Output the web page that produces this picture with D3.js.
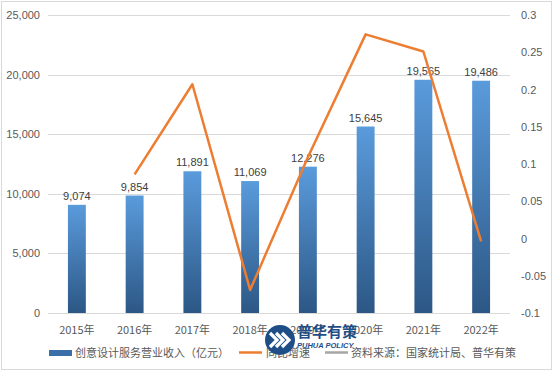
<!DOCTYPE html>
<html>
<head>
<meta charset="utf-8">
<script src="https://cdn.jsdelivr.net/npm/d3@7"></script>
<style>
body { margin: 0; background: #fff; }
svg text { font-family: "Noto Sans CJK SC", "Noto Sans", sans-serif; }
</style>
</head>
<body>
<svg id="chart"></svg>
<script>
var years = ['2015年', '2016年', '2017年', '2018年', '2019年', '2020年', '2021年', '2022年'];
var revenue = [9074, 9854, 11891, 11069, 12276, 15645, 19565, 19486];
var growth = [null, 0.086, 0.207, -0.069, 0.109, 0.274, 0.251, -0.004];
var leftTicks = [0, 5000, 10000, 15000, 20000, 25000];
var rightTicks = [-0.1, -0.05, 0, 0.05, 0.1, 0.15, 0.2, 0.25, 0.3];
var legendNames = ['创意设计服务营业收入（亿元）', '同比增速', '资料来源：国家统计局、普华有策'];

var W = 554, H = 373;
var svg = d3.select('#chart').attr('width', W).attr('height', H);

// outer frame
svg.append('rect').attr('x', 1.5).attr('y', 1.5).attr('width', W - 4).attr('height', H - 5)
    .attr('fill', '#fff').attr('stroke', '#d9d9d9');

var pLeft = 48, pRight = 510, pTop = 15, pBottom = 313;

var x = d3.scaleBand().domain(years).range([pLeft, pRight]).paddingInner(0.69).paddingOuter(0.345);
var y = d3.scaleLinear().domain([0, 25000]).range([pBottom, pTop]);
var y2 = d3.scaleLinear().domain([-0.1, 0.3]).range([pBottom, pTop]);

var defs = svg.append('defs');
var grad = defs.append('linearGradient').attr('id', 'barGrad')
    .attr('x1', 0).attr('y1', 0).attr('x2', 0).attr('y2', 1);
grad.append('stop').attr('offset', '0%').attr('stop-color', '#5a9bdc');
grad.append('stop').attr('offset', '100%').attr('stop-color', '#2c5785');

// gridlines
svg.append('g').selectAll('line').data(leftTicks).enter().append('line')
    .attr('x1', pLeft).attr('x2', pRight)
    .attr('y1', function (d) { return Math.round(y(d)) + 0.5; })
    .attr('y2', function (d) { return Math.round(y(d)) + 0.5; })
    .attr('stroke', '#d9d9d9');

// left axis
var axL = svg.append('g').attr('transform', 'translate(' + (pLeft - 5) + ',0)')
    .call(d3.axisLeft(y).tickValues(leftTicks).tickSize(0).tickFormat(d3.format(',')));
axL.select('.domain').remove();
axL.selectAll('text').attr('fill', '#595959').attr('font-size', 11)
    .style('font-family', '"Liberation Sans", "Noto Sans", sans-serif');

// right axis
var axR = svg.append('g').attr('transform', 'translate(' + (pRight + 8) + ',0)')
    .call(d3.axisRight(y2).tickValues(rightTicks).tickSize(0).tickFormat(function (d) { return String(+d.toFixed(2)); }));
axR.select('.domain').remove();
axR.selectAll('text').attr('fill', '#595959').attr('font-size', 11)
    .style('font-family', '"Liberation Sans", "Noto Sans", sans-serif');

// bars
svg.append('g').selectAll('rect').data(revenue).enter().append('rect')
    .attr('x', function (d, i) { return x(years[i]); })
    .attr('y', function (d) { return y(d); })
    .attr('width', x.bandwidth())
    .attr('height', function (d) { return pBottom - y(d); })
    .attr('fill', 'url(#barGrad)');

// bar labels
svg.append('g').selectAll('text').data(revenue).enter().append('text')
    .attr('x', function (d, i) { return x(years[i]) + x.bandwidth() / 2; })
    .attr('y', function (d) { return y(d) - 5; })
    .attr('text-anchor', 'middle').attr('font-size', 11).attr('fill', '#404040')
    .style('font-family', '"Liberation Sans", "Noto Sans", sans-serif')
    .text(function (d) { return d3.format(',')(d); });

// x labels
svg.append('g').selectAll('text').data(years).enter().append('text')
    .attr('x', function (d) { return x(d) + x.bandwidth() / 2; })
    .attr('y', 334).attr('text-anchor', 'middle').attr('font-size', 11).attr('fill', '#595959')
    .text(function (d) { return d; });

// growth line
var line = d3.line()
    .defined(function (d) { return d != null; })
    .x(function (d, i) { return x(years[i]) + x.bandwidth() / 2; })
    .y(function (d) { return y2(d); });
svg.append('path').datum(growth).attr('d', line)
    .attr('fill', 'none').attr('stroke', '#ed7d31').attr('stroke-width', 2.5)
    .attr('stroke-linejoin', 'round');

// legend
var lg = svg.append('g').attr('font-size', 11).attr('fill', '#595959');
lg.append('rect').attr('x', 49).attr('y', 350).attr('width', 23).attr('height', 6).attr('fill', '#3a6fa8');
lg.append('text').attr('x', 75).attr('y', 357).text(legendNames[0]);
lg.append('line').attr('x1', 239).attr('x2', 262).attr('y1', 352.5).attr('y2', 352.5)
    .attr('stroke', '#ed7d31').attr('stroke-width', 2.5);
lg.append('text').attr('x', 266).attr('y', 357).text(legendNames[1]);
lg.append('line').attr('x1', 325).attr('x2', 348).attr('y1', 352.5).attr('y2', 352.5)
    .attr('stroke', '#a6a6a6').attr('stroke-width', 2.5);
lg.append('text').attr('x', 351).attr('y', 357).text(legendNames[2]);

// watermark
var wm = svg.append('g').attr('transform', 'translate(280,340)');
wm.append('circle').attr('r', 15).attr('fill', '#1f4e87');
[-6, 0, 6].forEach(function (dx) {
    wm.append('path').attr('d', 'M' + (dx - 4) + ',-7 L' + (dx + 3) + ',0 L' + (dx - 4) + ',7')
        .attr('fill', 'none').attr('stroke', '#fff').attr('stroke-width', 3.2);
});
wm.append('text').attr('x', 17).attr('y', -3).attr('font-size', 15).attr('font-weight', 'bold')
    .attr('fill', '#1f4e87').text('普华有策');
wm.append('text').attr('x', 17).attr('y', 8).attr('font-size', 7.5).attr('font-weight', 'bold')
    .attr('font-style', 'italic').attr('fill', '#1f4e87')
    .style('font-family', '"Liberation Sans", sans-serif').text('PUHUA POLICY');
</script>
</body>
</html>
